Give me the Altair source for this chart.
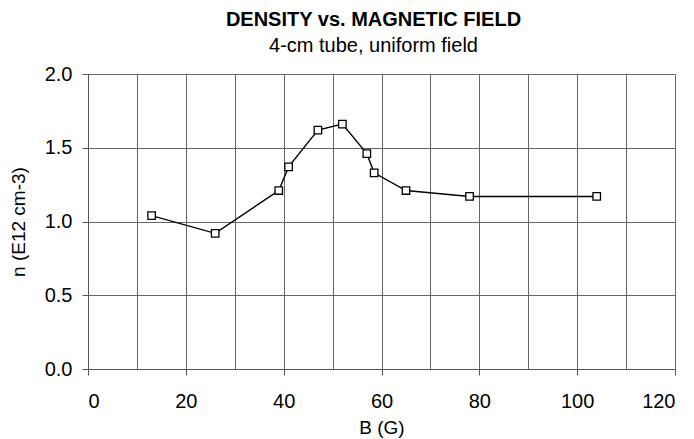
import altair as alt
import pandas as pd

B_gauss = [13, 26, 39, 41, 47, 52, 57, 58.5, 65, 78, 104]
density = [1.04, 0.92, 1.21, 1.37, 1.62, 1.66, 1.46, 1.33, 1.21, 1.17, 1.17]

x_ticks = list(range(0, 121, 10))
y_ticks = [0.0, 0.5, 1.0, 1.5, 2.0]

df = pd.DataFrame({"B": B_gauss, "n": density})

FONT = "Liberation Sans"

x_enc = alt.X(
    "B:Q",
    title="B (G)",
    scale=alt.Scale(domain=[0, 120], nice=False, zero=False),
    axis=alt.Axis(
        values=x_ticks,
        labelExpr="datum.value % 20 === 0 ? datum.label : ''",
        tickOpacity={"condition": {"test": "datum.value % 20 !== 0", "value": 0}, "value": 1},
        tickSize=6,
        labelPadding=16,
        titlePadding=7,
    ),
)
y_enc = alt.Y(
    "n:Q",
    title="n (E12 cm-3)",
    scale=alt.Scale(domain=[0, 2], nice=False),
    axis=alt.Axis(
        values=y_ticks,
        format=".1f",
        tickSize=6,
        labelPadding=10,
        titlePadding=16,
    ),
)

line = alt.Chart(df).mark_line(color="black", strokeWidth=1.4).encode(
    x=x_enc, y=y_enc, order="B:Q"
)
points = alt.Chart(df).mark_point(
    shape="square", filled=True, fill="white", stroke="black", strokeWidth=1.3, size=56, opacity=1
).encode(x="B:Q", y="n:Q")

chart = (
    alt.layer(line, points)
    .properties(
        width=587,
        height=295,
        autosize=alt.AutoSizeParams(type="none"),
        padding={"left": 88, "top": 74, "right": 19, "bottom": 70},
        title=alt.TitleParams(
            text="DENSITY vs. MAGNETIC FIELD",
            subtitle="4-cm tube, uniform field",
            anchor="middle",
            dx=-8,
            offset=8,
            font=FONT,
            fontSize=20,
            fontWeight="bold",
            color="black",
            subtitleFont=FONT,
            subtitleFontSize=20,
            subtitleFontWeight="normal",
            subtitleColor="black",
            subtitlePadding=6,
        ),
    )
    .configure_view(stroke=None)
    .configure_axis(
        labelFont=FONT,
        titleFont=FONT,
        labelFontSize=20,
        titleFontSize=19,
        titleFontWeight="normal",
        labelColor="black",
        titleColor="black",
        gridColor="#666666",
        gridOpacity=1,
        gridWidth=1,
        domainColor="#555555",
        tickColor="#555555",
    )
)

chart.save("out.html", embed_options={"renderer": "svg", "actions": False})
